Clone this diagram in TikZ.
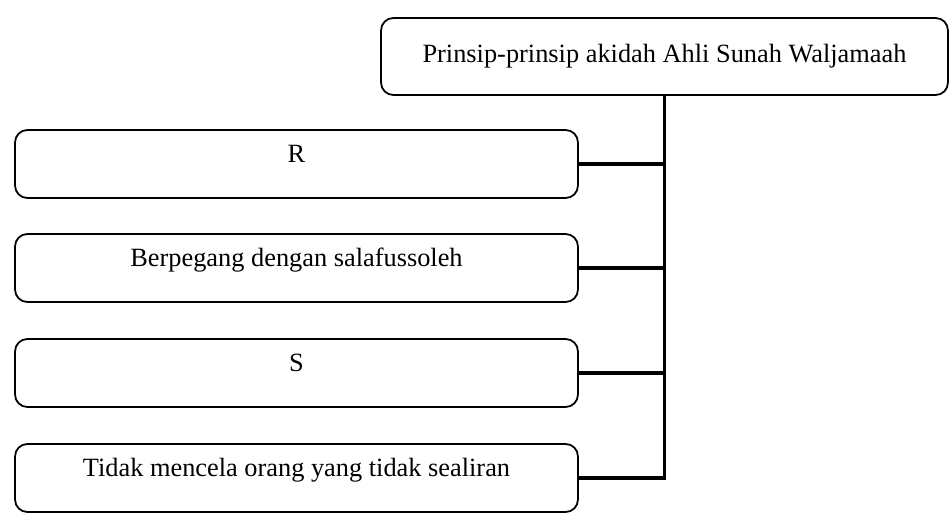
\documentclass[tikz,border=0pt]{standalone}
\usepackage{fontspec}
\setmainfont{Liberation Serif}
\begin{document}
\begin{tikzpicture}[x=0.02cm, y=-0.02cm]
	\tikzstyle{box}=[draw, line width=1pt, rounded corners=7pt, minimum width=11.26cm, minimum height=1.36cm, inner sep=0pt, font=\fontsize{15}{17}\selectfont]
	\tikzstyle{sub}=[box, text height=10pt, text depth=12pt]
	\tikzstyle{link}=[line width=2.2pt]
	\useasboundingbox (0,0) rectangle (950,520);
		\node[box, minimum width=11.34cm, minimum height=1.54cm] (top) at (664.5, 56.5) {Prinsip-prinsip akidah Ahli Sunah Waljamaah};
		
		\node[sub] (r) at (296.5, 164) {R};
		\node[sub] (salaf) at (296.5, 268) {Berpegang dengan salafussoleh};
		\node[sub] (s) at (296.5, 373) {S};
		\node[sub] (cela) at (296.5, 478) {Tidak mencela orang yang tidak sealiran};
		
		%========================================================================
		% Connectors
		\draw[link] (top.south) -- (top.south |- cela.east) -- (cela.east);
		\draw[link] (r.east) -- (r.east -| top.south);
		\draw[link] (salaf.east) -- (salaf.east -| top.south);
		\draw[link] (s.east) -- (s.east -| top.south);
	\end{tikzpicture}
\end{document}
